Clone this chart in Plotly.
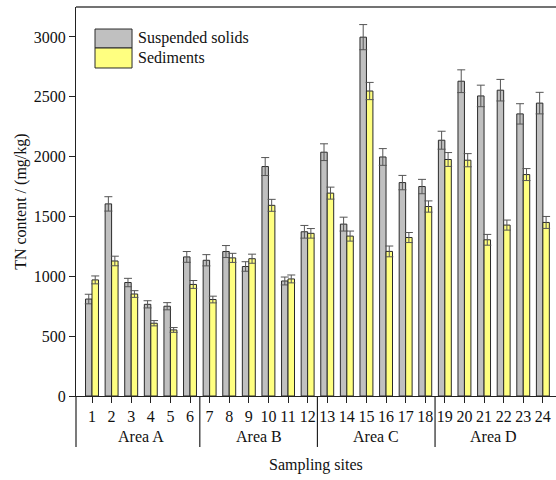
import plotly.graph_objects as go

sites = list(range(1, 25))
site_labels = [str(s) for s in sites]
ss_values = [810, 1605, 948, 766, 750, 1162, 1134, 1207, 1082, 1917, 961, 1372,
             2037, 1436, 2998, 1997, 1783, 1750, 2137, 2630, 2507, 2555, 2357, 2447]
ss_errors = [40, 60, 35, 30, 30, 45, 47, 50, 40, 75, 33, 53,
             70, 58, 105, 70, 60, 60, 75, 95, 90, 90, 85, 90]
sed_values = [970, 1128, 852, 608, 552, 932, 806, 1154, 1147, 1593, 978, 1359,
              1695, 1336, 2548, 1208, 1324, 1583, 1976, 1970, 1305, 1428, 1850, 1450]
sed_errors = [33, 40, 28, 22, 20, 33, 28, 38, 38, 50, 33, 40,
              50, 42, 72, 45, 42, 47, 58, 55, 45, 42, 50, 50]
areas = ["Area A", "Area B", "Area C", "Area D"]
area_centers = [3.5, 9.5, 15.5, 21.5]
area_bounds = [6.5, 12.5, 18.5]
y_ticks = [0, 500, 1000, 1500, 2000, 2500, 3000]

FONT = "Liberation Serif, Times New Roman, serif"
FS = 16
GRAY = "#c0c0c0"
YELLOW = "#ffff80"
EDGE = "#2a2a2a"
ERR = "#555555"

fig = go.Figure()
fig.add_trace(go.Bar(
    x=sites, y=ss_values, name="Suspended solids",
    marker=dict(color=GRAY, line=dict(color=EDGE, width=1)),
    error_y=dict(type="data", array=ss_errors, symmetric=True,
                 color=ERR, thickness=1, width=4),
    showlegend=False))
fig.add_trace(go.Bar(
    x=sites, y=sed_values, name="Sediments",
    marker=dict(color=YELLOW, line=dict(color=EDGE, width=1)),
    error_y=dict(type="data", array=sed_errors, symmetric=True,
                 color=ERR, thickness=1, width=4),
    showlegend=False))

shapes = []
# top border
shapes.append(dict(type="line", xref="paper", yref="paper", x0=0, x1=1, y0=1, y1=1,
                   line=dict(color="#444", width=1.5)))
# group separators below the axis
sep_bottom = -0.131
shapes.append(dict(type="line", xref="paper", yref="paper", x0=0, x1=0, y0=0, y1=sep_bottom,
                   line=dict(color="#222", width=1.2)))
for b in area_bounds:
    shapes.append(dict(type="line", xref="x", yref="paper", x0=b, x1=b, y0=0, y1=sep_bottom,
                       line=dict(color="#222", width=1.2)))
# legend swatches
shapes.append(dict(type="rect", xref="paper", yref="paper", x0=0.0396, x1=0.1167,
                   y0=0.8946, y1=0.9434, fillcolor=GRAY, line=dict(color=EDGE, width=1)))
shapes.append(dict(type="rect", xref="paper", yref="paper", x0=0.0396, x1=0.1167,
                   y0=0.8432, y1=0.8946, fillcolor=YELLOW, line=dict(color=EDGE, width=1)))

annotations = []
for name, c in zip(areas, area_centers):
    annotations.append(dict(x=c, y=-0.105, xref="x", yref="paper", text=name,
                            showarrow=False, font=dict(family=FONT, size=FS, color="#111"),
                            xanchor="center", yanchor="middle"))
annotations.append(dict(x=0.125, y=0.9203, xref="paper", yref="paper", text="Suspended solids",
                        showarrow=False, xanchor="left", yanchor="middle",
                        font=dict(family=FONT, size=FS, color="#111")))
annotations.append(dict(x=0.125, y=0.8689, xref="paper", yref="paper", text="Sediments",
                        showarrow=False, xanchor="left", yanchor="middle",
                        font=dict(family=FONT, size=FS, color="#111")))
annotations.append(dict(x=0.5, y=-0.178, xref="paper", yref="paper", text="Sampling sites",
                        showarrow=False, xanchor="center", yanchor="middle",
                        font=dict(family=FONT, size=FS, color="#111")))
annotations.append(dict(x=-0.116, y=0.5, xref="paper", yref="paper", text="TN content / (mg/kg)",
                        showarrow=False, xanchor="center", yanchor="middle", textangle=-90,
                        font=dict(family=FONT, size=FS, color="#111")))

fig.update_layout(
    width=556, height=480,
    margin=dict(l=76, r=0, t=7, b=84, autoexpand=False),
    paper_bgcolor="white", plot_bgcolor="white",
    barmode="group", bargap=0.34, bargroupgap=0,
    font=dict(family=FONT, size=FS, color="#111"),
    shapes=shapes, annotations=annotations,
    xaxis=dict(range=[0.184, 24.67], tickmode="array", tickvals=sites, ticktext=site_labels,
               ticks="outside", ticklen=6, tickcolor="#222", showline=True, linecolor="#222",
               linewidth=1.2, showgrid=False, zeroline=False,
               tickfont=dict(family=FONT, size=FS, color="#111")),
    yaxis=dict(range=[0, 3250], tickmode="array", tickvals=y_ticks,
               ticks="outside", ticklen=6, tickcolor="#222", showline=True, linecolor="#222",
               linewidth=1.2, showgrid=False, zeroline=False,
               tickfont=dict(family=FONT, size=FS, color="#111")),
)

fig.write_html("out.html", config={"displayModeBar": False},
               post_script="document.body.style.margin='0';document.body.style.padding='0';"
                           "document.documentElement.style.overflow='hidden';")
